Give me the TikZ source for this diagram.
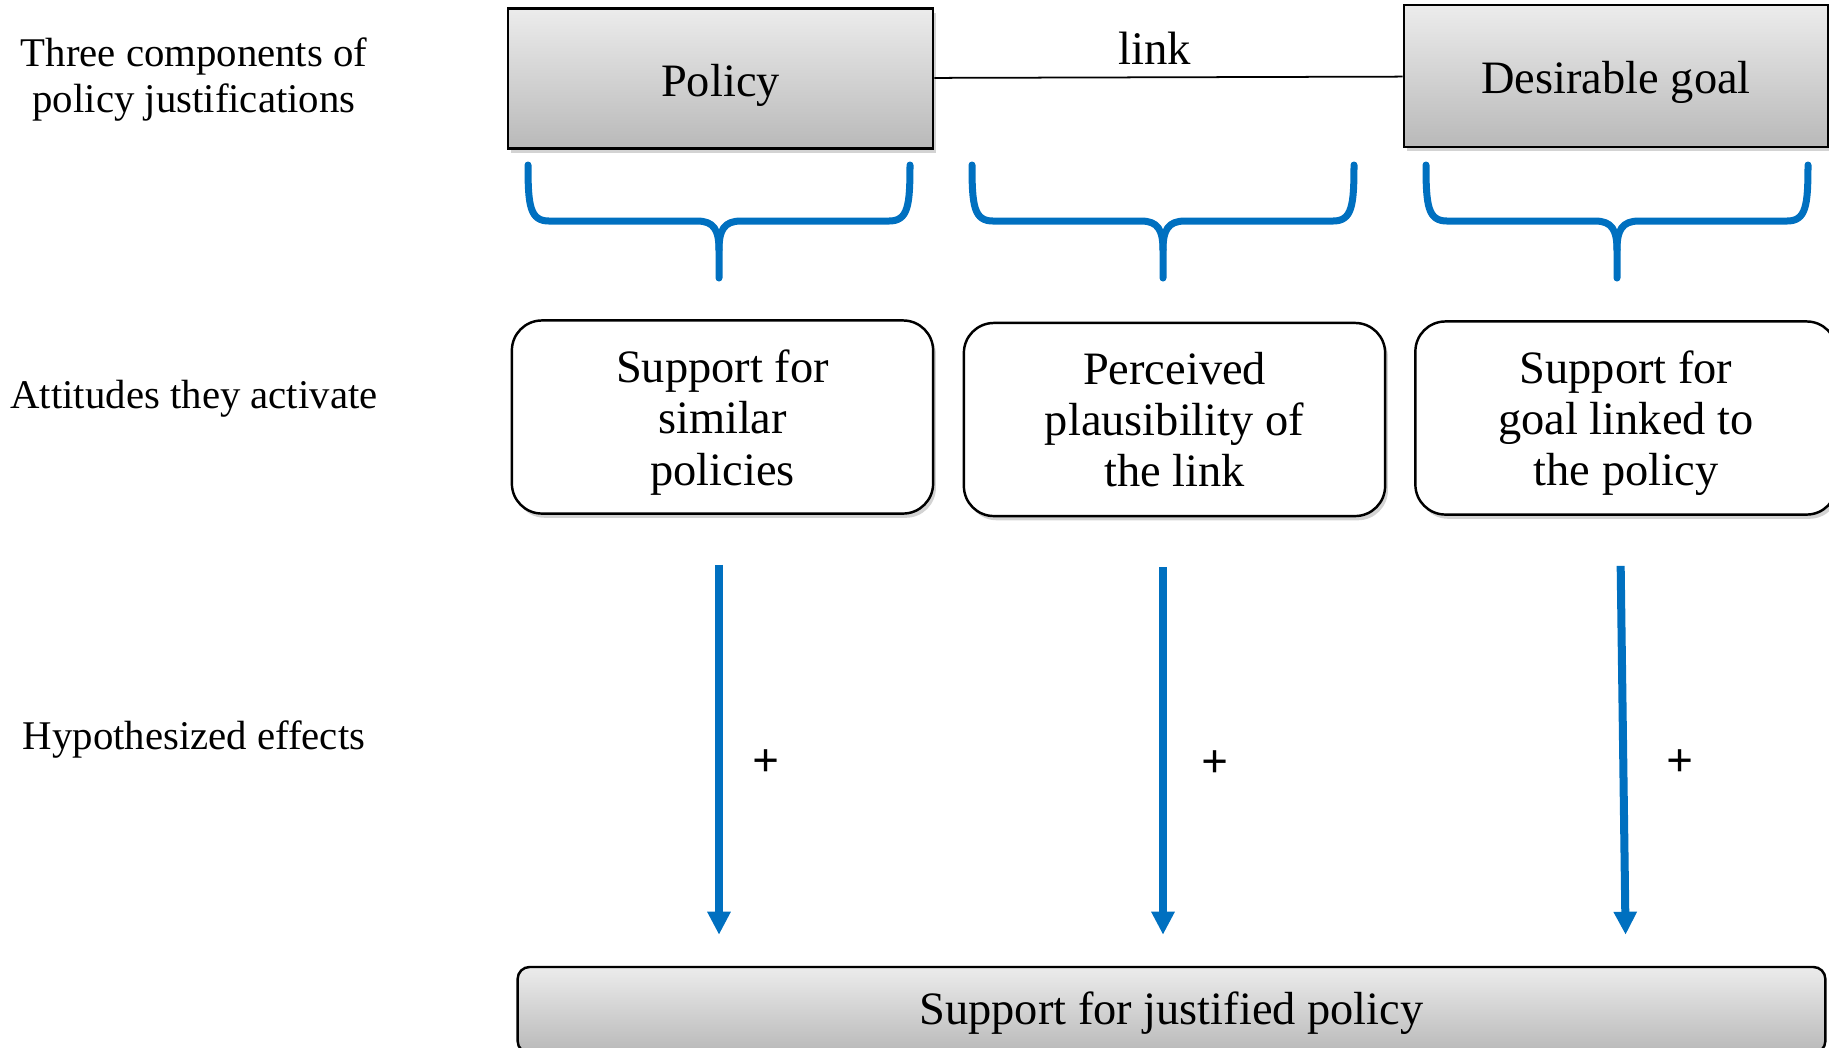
\documentclass[tikz,border=0pt]{standalone}
\usepackage{fontspec}
\setmainfont{Liberation Serif}
\usepackage{xcolor}
\usepackage{tikz}
\usetikzlibrary{arrows.meta,shadows,positioning,calc}
\definecolor{effblue}{RGB}{0,112,192}
\newcommand{\attstrut}{\rule{0pt}{12.3pt}}
\newcommand{\sidestrut}{\rule{0pt}{10.3pt}}

\begin{document}
\begin{tikzpicture}[x=0.01cm,y=-0.01cm,auto,
    comp node/.style={rectangle,draw,line width=0.7pt,top color=gray!15,bottom color=gray!55,
      drop shadow={shadow xshift=0.8pt,shadow yshift=-1.2pt,opacity=0.35},
      minimum height=1.4cm,font=\fontsize{13.2}{15}\selectfont,
      execute at begin node={\rule{0pt}{13pt}}},
    att node/.style={rectangle,rounded corners=0.3cm,draw,line width=0.7pt,fill=white,
      drop shadow={shadow xshift=0.8pt,shadow yshift=-1.2pt,opacity=0.35},
      minimum width=4.21cm,minimum height=1.93cm,align=center,
      font=\fontsize{13.2}{14.6}\selectfont},
    side label/.style={align=center,font=\fontsize{11.6}{13}\selectfont},
    effect/.style={line width=0.08cm,effblue,-{Triangle[width=0.22cm,length=0.23cm]},
      shorten <=0.5cm,shorten >=0.31cm},
    plus/.style={pos=0.55,text=black,font=\fontsize{13.5}{15}\bfseries},
    brace/.style={line width=0.07cm,effblue,line join=round,line cap=round}]

 \useasboundingbox (0,0) rectangle (1829,1047);

 % row labels
 \node[side label] (l1) at (194,76) {\sidestrut Three components of\\policy justifications};
 \node[side label] (l2) at (194,395) {\sidestrut Attitudes they activate};
 \node[side label] (l3) at (194,736) {\sidestrut Hypothesized effects};

 % components
 \node[comp node,minimum width=4.25cm] (t1) at (720.5,78.5) {Policy};
 \node[comp node,minimum width=4.24cm,minimum height=1.42cm] (t2) at (1616,76) {Desirable goal};

 \path
 (t1) edge[line width=0.5pt] node[pos=0.47,font=\fontsize{13.3}{15}\selectfont] {link} (t2);

 % braces
 \foreach \cx [count=\i] in {719,1163,1617}{
   \coordinate (b\i) at (\cx,278);
   \draw[brace] (\cx-191,165) .. controls (\cx-191,206) and (\cx-189,221) .. (\cx-170,221)
     -- (\cx-22,221) .. controls (\cx-5,221) and (\cx,230) .. (\cx,250) -- (b\i);
   \draw[brace] (\cx+191,165) .. controls (\cx+191,206) and (\cx+189,221) .. (\cx+170,221)
     -- (\cx+22,221) .. controls (\cx+5,221) and (\cx,230) .. (\cx,250);
 }

 % attitudes
 \node[att node] (a1) at (722.5,417) {\attstrut Support for\\similar\\policies};
 \node[att node] (a2) at (1174.5,419.5) {Perceived\\plausibility of\\the link};
 \node[att node] (a3) at (1626,418) {\attstrut Support for\\goal linked to\\the policy};

 % outcome
 \node[rectangle,rounded corners=0.12cm,draw,line width=0.7pt,top color=gray!15,bottom color=gray!55,
   minimum width=13.07cm,minimum height=0.86cm,font=\fontsize{13.2}{15}\selectfont,
   execute at begin node={\rule{0pt}{11pt}}]
   (s) at (1171.5,1010) {Support for justified policy};

 % effects
 \path
 (a1.south -| b1) edge[effect] node[plus,xshift=0.18cm] {+} (s.north -| b1)
 (a2.south -| b2) edge[effect] node[plus,xshift=0.23cm] {+} (s.north -| b2)
 ($(a3.south -| b3)+(3,0)$) edge[effect] node[plus,xshift=0.27cm] {+} ($(s.north -| b3)+(9,0)$);

\end{tikzpicture}
\end{document}
